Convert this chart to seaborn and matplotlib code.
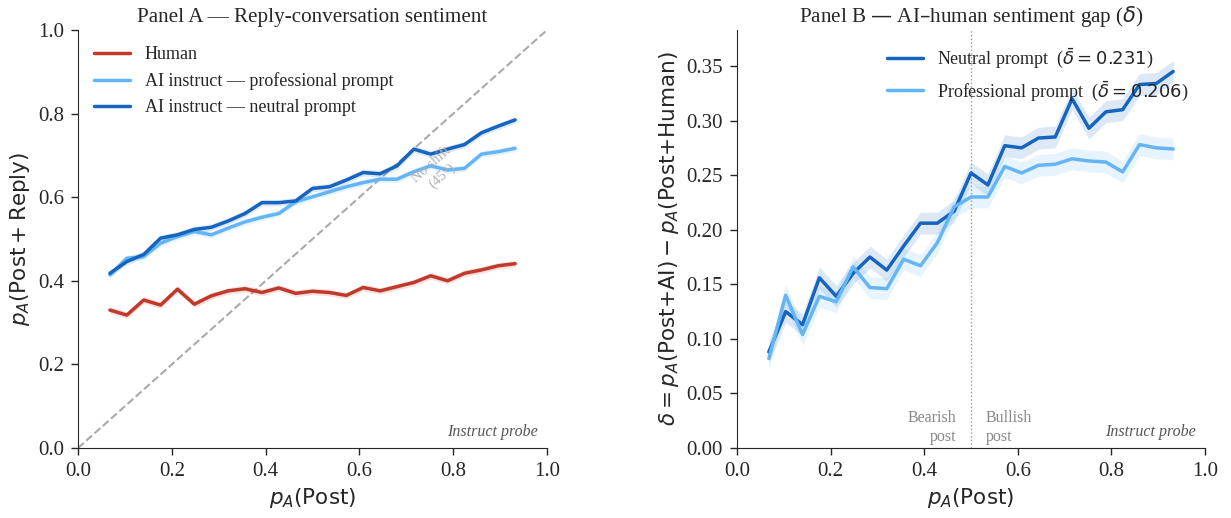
import numpy as np
import pandas as pd
import matplotlib
matplotlib.use("Agg")
import matplotlib.pyplot as plt
import seaborn as sns

# ---------------------------------------------
# DATA
# ---------------------------------------------
p_post = [0.068, 0.104, 0.140, 0.176, 0.212, 0.248, 0.284, 0.320, 0.356,
          0.392, 0.428, 0.464, 0.500, 0.536, 0.572, 0.608, 0.644, 0.680,
          0.716, 0.752, 0.788, 0.824, 0.860, 0.896, 0.932]

human = [0.330, 0.318, 0.354, 0.342, 0.380, 0.344, 0.364, 0.376, 0.381,
         0.372, 0.383, 0.370, 0.375, 0.372, 0.365, 0.384, 0.376, 0.386,
         0.396, 0.412, 0.400, 0.418, 0.426, 0.436, 0.441]
ai_professional = [0.414, 0.454, 0.458, 0.490, 0.506, 0.518, 0.510, 0.526, 0.541,
                   0.552, 0.561, 0.589, 0.601, 0.613, 0.625, 0.635, 0.643, 0.643,
                   0.661, 0.675, 0.665, 0.669, 0.703, 0.709, 0.717]
ai_neutral = [0.418, 0.446, 0.463, 0.502, 0.510, 0.523, 0.528, 0.543, 0.561,
              0.587, 0.587, 0.591, 0.621, 0.625, 0.641, 0.659, 0.656, 0.675,
              0.715, 0.703, 0.715, 0.726, 0.754, 0.770, 0.785]
ci_a = 0.008

gap_neutral = [0.088, 0.125, 0.113, 0.156, 0.139, 0.160, 0.175, 0.163, 0.185,
               0.206, 0.206, 0.217, 0.252, 0.241, 0.277, 0.275, 0.284, 0.285,
               0.320, 0.293, 0.308, 0.310, 0.333, 0.334, 0.345]
gap_professional = [0.082, 0.140, 0.104, 0.139, 0.134, 0.166, 0.147, 0.146, 0.173,
                    0.167, 0.188, 0.221, 0.230, 0.230, 0.258, 0.252, 0.259, 0.260,
                    0.265, 0.263, 0.262, 0.253, 0.278, 0.275, 0.274]
ci_b = 0.010

RED = "#c0392b"
LIGHT = "#64b5f6"
DARK = "#1565c0"

sns.set_style("ticks")
plt.rcParams["font.family"] = ["Liberation Serif", "DejaVu Serif"]
plt.rcParams["mathtext.fontset"] = "dejavusans"

fig = plt.figure(figsize=(12.31, 5.18), dpi=100)
ax1 = fig.add_axes([0.0634, 0.1351, 0.381, 0.807])
ax2 = fig.add_axes([0.5987, 0.1351, 0.3802, 0.807])

# ---------------------------------------------
# PANEL A
# ---------------------------------------------
df_a = pd.DataFrame({"x": p_post, "Human": human,
                     "AI instruct — professional prompt": ai_professional,
                     "AI instruct — neutral prompt": ai_neutral})
ax1.plot([0, 1], [0, 1], ls="--", color="#aaaaaa", lw=1.5, zorder=1)
for name, col in [("Human", RED),
                  ("AI instruct — professional prompt", LIGHT),
                  ("AI instruct — neutral prompt", DARK)]:
    y = np.array(df_a[name])
    ax1.fill_between(df_a["x"], y - ci_a, y + ci_a, color=col, alpha=0.15, lw=0)
    sns.lineplot(x=df_a["x"], y=y, color=col, lw=2.5, label=name, ax=ax1)

ax1.text(0.765, 0.665, "No shift\n(45°)", rotation=41.7, color="#b0b0b0",
         fontsize=10.5, ha="center", va="center", rotation_mode="anchor")
ax1.text(0.98, 0.02, "Instruct probe", transform=ax1.transAxes, ha="right",
         va="bottom", fontsize=11.5, style="italic", color="#555555")
ax1.set_xlim(0, 1)
ax1.set_ylim(0, 1)
ax1.set_xticks([0, 0.2, 0.4, 0.6, 0.8, 1.0])
ax1.set_yticks([0, 0.2, 0.4, 0.6, 0.8, 1.0])
ax1.set_xticklabels(["0.0", "0.2", "0.4", "0.6", "0.8", "1.0"])
ax1.set_yticklabels(["0.0", "0.2", "0.4", "0.6", "0.8", "1.0"])
ax1.set_xlabel(r"$p_A(\mathrm{Post})$", fontsize=15.5)
ax1.set_ylabel(r"$p_A(\mathrm{Post+Reply})$", fontsize=15.5)
ax1.set_title("Panel A — Reply-conversation sentiment", fontsize=15.2)
ax1.legend(loc="upper left", frameon=False, fontsize=13)
ax1.tick_params(labelsize=15, length=5, width=1, pad=5)

# ---------------------------------------------
# PANEL B
# ---------------------------------------------
ax2.axhline(0, ls="--", color="#aaaaaa", lw=0.8)
ax2.axvline(0.5, ls=":", color="#999999", lw=1)
for y, col, lab in [(gap_neutral, DARK, r"Neutral prompt  ($\bar{\delta} = 0.231$)"),
                    (gap_professional, LIGHT, r"Professional prompt  ($\bar{\delta} = 0.206$)")]:
    y = np.array(y)
    ax2.fill_between(p_post, y - ci_b, y + ci_b, color=col, alpha=0.15, lw=0)
    sns.lineplot(x=p_post, y=y, color=col, lw=2.5, label=lab, ax=ax2)

ax2.text(0.468, 0.003, "Bearish\npost", ha="right", va="bottom", fontsize=11.5, color="#888888")
ax2.text(0.532, 0.003, "Bullish\npost", ha="left", va="bottom", fontsize=11.5, color="#888888")
ax2.text(0.98, 0.02, "Instruct probe", transform=ax2.transAxes, ha="right",
         va="bottom", fontsize=11.5, style="italic", color="#555555")
ax2.set_xlim(0, 1)
ax2.set_ylim(0, 0.383)
ax2.set_xticks([0, 0.2, 0.4, 0.6, 0.8, 1.0])
ax2.set_xticklabels(["0.0", "0.2", "0.4", "0.6", "0.8", "1.0"])
ax2.set_yticks([0, 0.05, 0.10, 0.15, 0.20, 0.25, 0.30, 0.35])
ax2.set_yticklabels(["0.00", "0.05", "0.10", "0.15", "0.20", "0.25", "0.30", "0.35"])
ax2.set_xlabel(r"$p_A(\mathrm{Post})$", fontsize=15.5)
ax2.set_ylabel(r"$\delta = p_A(\mathrm{Post{+}AI}) - p_A(\mathrm{Post{+}Human})$", fontsize=15.5)
ax2.set_title(r"Panel B — AI–human sentiment gap ($\delta$)", fontsize=15.2)
ax2.legend(loc="upper right", frameon=False, fontsize=13)
ax2.tick_params(labelsize=15, length=5, width=1, pad=5)

sns.despine(fig)
fig.savefig("out.png", dpi=100)
